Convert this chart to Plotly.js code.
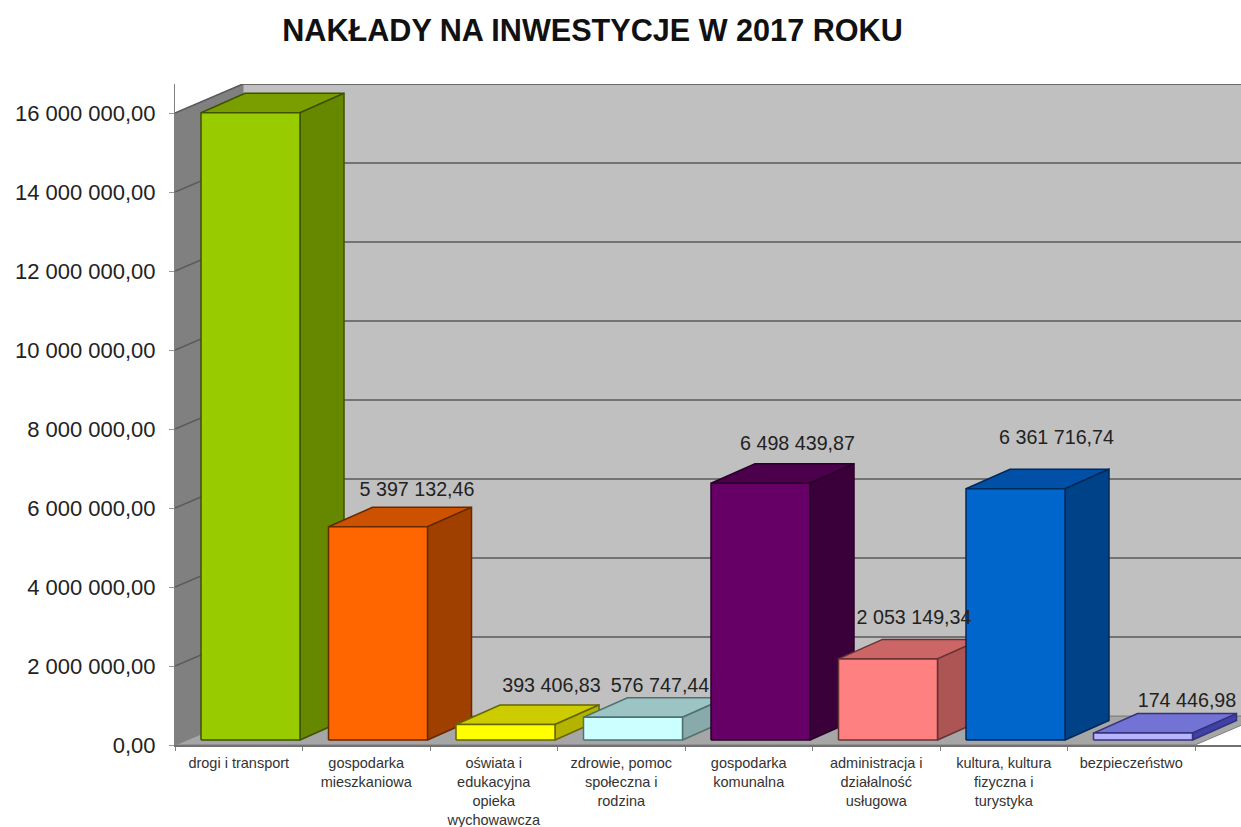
<!DOCTYPE html>
<html><head><meta charset="utf-8">
<script src="https://cdn.plot.ly/plotly-3.0.1.min.js"></script>
<style>html,body{margin:0;padding:0;background:#fff}#c{width:1241px;height:827px}</style>
</head><body><div id="c"></div>
<script>
const categories = ["drogi i transport","gospodarka<br>mieszkaniowa","oświata i<br>edukacyjna<br>opieka<br>wychowawcza","zdrowie, pomoc<br>społeczna i<br>rodzina","gospodarka<br>komunalna","administracja i<br>działalność<br>usługowa","kultura, kultura<br>fizyczna i<br>turystyka","bezpieczeństwo"];
const values = [15878917.72,5397132.46,393406.83,576747.44,6498439.87,2053149.34,6361716.74,174446.98];
const yTicks = [0,2000000,4000000,6000000,8000000,10000000,12000000,14000000,16000000];
const yTickLabels = ["0,00","2 000 000,00","4 000 000,00","6 000 000,00","8 000 000,00","10 000 000,00","12 000 000,00","14 000 000,00","16 000 000,00"];
const frontColors = ["#99CC00","#FF6600","#FFFF00","#CCFFFF","#660066","#FF8080","#0066CC","#B9B4FF"];
const topColors = ["#7A9E00","#CC5200","#CCCC00","#9DC4C4","#4C004C","#CC6666","#0050A8","#7373D6"];
const sideColors = ["#668800","#A04000","#B3B300","#88AAAA","#3A003A","#AD5555","#004288","#4040A8"];
const edgeColors = ["#3D5200","#662900","#666600","#527070","#290029","#663333","#00295C","#33337A"];
// label nudges in px relative to the front-top-centre of each column
const labelDx = [52,39,46,27,37,26,41,44];
const labelDy = [37,36,37,30,38,40,50,31];

// layout geometry
const W=1241,H=827,L=175,B=82,T=84;
const catPx=127.5, mPx=39.5;          // px per category, px per 1 000 000
const X=p=>p/catPx, Y=p=>p/mPx*1e6;
const wallDx=X(68), wallDy=Y(29);
const barDx=X(44), barDy=Y(19.5);
const barOff=X(26), barW=X(99), baseY=Y(5);
const n=categories.length, xMax=(W-L)/catPx, yMax=(H-B-T)/mPx*1e6;

const traces=[];
function poly(xs,ys,fill,line,w){
  traces.push({type:'scatter',mode:'lines',x:[...xs,xs[0]],y:[...ys,ys[0]],fill:'toself',fillcolor:fill,
    line:{color:line||fill,width:w===undefined?1.5:w},hoverinfo:'skip',showlegend:false});
}
const topV=yTicks[yTicks.length-1];
// walls and floor
poly([0,wallDx,wallDx+n,n],[0,wallDy,wallDy,0],'#A6A6A6','#808080',1);
poly([0,wallDx,wallDx,0],[0,wallDy,topV+wallDy,topV],'#808080','#808080',1);
poly([wallDx,wallDx+n,wallDx+n,wallDx],[wallDy,wallDy,topV+wallDy,topV+wallDy],'#C0C0C0','#808080',1);
// gridlines
const gx=[],gy=[];
yTicks.slice(1).forEach(v=>{gx.push(0,wallDx,wallDx+n,null);gy.push(v,v+wallDy,v+wallDy,null);});
traces.push({type:'scatter',mode:'lines',x:gx,y:gy,line:{color:'#5A5A5A',width:1.6},hoverinfo:'skip',showlegend:false});
// columns
const lx=[],ly=[];
values.forEach((v,i)=>{
  const a=i+barOff,b=a+barW,y0=baseY,y1=baseY+v;
  poly([a,a+barDx,b+barDx,b],[y1,y1+barDy,y1+barDy,y1],topColors[i],edgeColors[i]);
  poly([b,b+barDx,b+barDx,b],[y0,y0+barDy,y1+barDy,y1],sideColors[i],edgeColors[i]);
  poly([a,b,b,a],[y0,y0,y1,y1],frontColors[i],edgeColors[i]);
  lx.push(a+barW/2+X(labelDx[i])); ly.push(y1+Y(labelDy[i]));
});
function fmt(v){const s=v.toFixed(2).split('.');return s[0].replace(/\B(?=(\d{3})+$)/g,' ')+','+s[1];}
traces.push({type:'scatter',mode:'text',x:lx,y:ly,text:values.map(fmt),textposition:'middle center',cliponaxis:false,
  textfont:{family:'Liberation Sans',size:19.7,color:'#222'},hoverinfo:'skip',showlegend:false});

const layout={
  width:W,height:H,autosize:false,showlegend:false,hovermode:false,
  paper_bgcolor:'#fff',plot_bgcolor:'#fff',
  margin:{l:L,r:0,t:T,b:B,pad:0},
  title:{text:'NAKŁADY NA INWESTYCJE W 2017 ROKU',font:{family:'Liberation Sans',size:30.6,color:'#111',weight:700},
    x:592.5/W,xanchor:'center',y:1-30/H,yanchor:'middle'},
  xaxis:{range:[0,xMax],fixedrange:true,showgrid:false,zeroline:false,showline:true,linecolor:'#707070',linewidth:2,
    tickmode:'array',tickvals:categories.map((c,i)=>i+0.5),ticktext:categories,ticks:'',tickangle:0,
    tickfont:{family:'Liberation Sans',size:14.5,color:'#333'},ticklabelstandoff:4,
    minor:{tickmode:'array',tickvals:Array.from({length:n+1},(_,i)=>i),ticks:'outside',ticklen:4,tickcolor:'#808080',tickwidth:1,showgrid:false}},
  yaxis:{range:[0,yMax],fixedrange:true,showgrid:false,zeroline:false,showline:true,linecolor:'#808080',linewidth:1,
    tickmode:'array',tickvals:yTicks,ticktext:yTickLabels,ticks:'outside',ticklen:5,tickcolor:'#999',tickwidth:1,
    tickfont:{family:'Liberation Sans',size:22,color:'#222'},ticklabelstandoff:9}
};
Plotly.newPlot('c',traces,layout,{displayModeBar:false,staticPlot:true});
</script></body></html>
